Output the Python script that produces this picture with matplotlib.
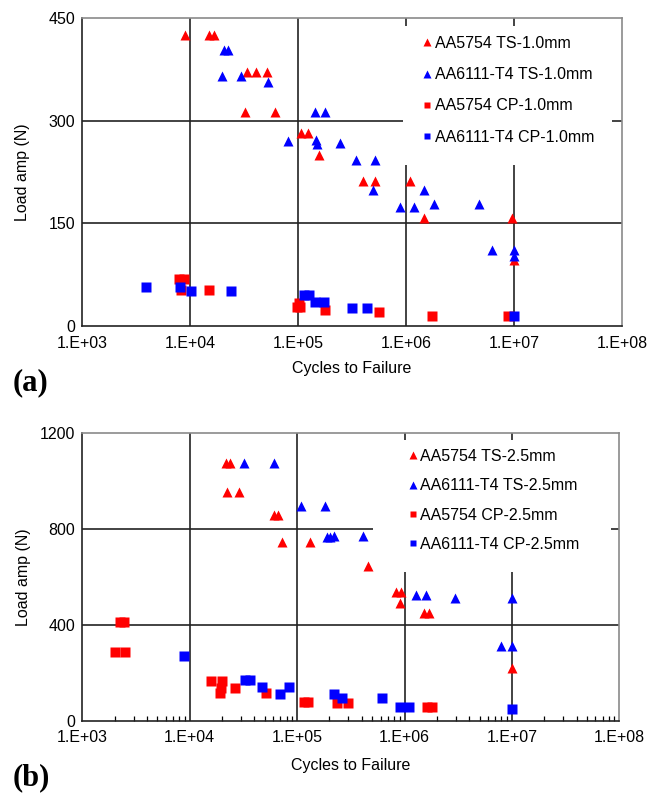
"""
S-N data of spot-friction-welded AA5754 / AA6111-T4 lap joints, two sheet thicknesses
"""

import numpy as np
import matplotlib.pyplot as plt
from matplotlib.patches import Rectangle
from matplotlib.ticker import FixedLocator, LogLocator, NullFormatter

plt.rcParams['font.family'] = ['Liberation Sans', 'DejaVu Sans']

#%% data, 1.0 mm sheet (a)

a_ts5754_n = [8.9e3, 1.49e4, 1.66e4, 3.37e4, 4.11e4, 5.17e4, 3.25e4, 6.17e4, 1.07e5, 1.24e5,
              1.55e5, 4.03e5, 5.17e5, 1.10e6, 1.46e6, 9.5e6, 1.0e7]
a_ts5754_p = [425, 425, 425, 371, 371, 371, 312, 312, 282, 282,
              250, 212, 212, 212, 158, 158, 96]

a_ts6111_n = [2.05e4, 2.23e4, 1.98e4, 2.96e4, 5.24e4, 1.45e5, 1.79e5, 8.0e4, 1.48e5, 1.50e5,
              2.45e5, 3.44e5, 5.17e5, 4.98e5, 8.8e5, 1.19e6, 1.46e6, 1.82e6, 4.71e6, 6.25e6,
              1.0e7, 1.0e7]
a_ts6111_p = [403, 403, 365, 365, 357, 312, 312, 271, 272, 266,
              268, 243, 243, 198, 174, 174, 198, 178, 178, 111,
              111, 103]

a_cp5754_n = [7.85e3, 8.75e3, 8.26e3, 1.49e4, 9.7e4, 1.03e5, 1.05e5, 1.77e5, 5.63e5, 1.73e6, 8.85e6]
a_cp5754_p = [68, 68, 53, 53, 28, 33, 28, 24, 20, 15, 15]

a_cp6111_n = [3.94e3, 8.0e3, 1.02e4, 2.4e4, 1.13e5, 1.26e5, 1.45e5, 1.73e5, 3.14e5, 4.39e5, 1.0e7]
a_cp6111_p = [57, 57, 51, 51, 45, 45, 35, 35, 27, 27, 15]

#%% data, 2.5 mm sheet (b)

b_ts5754_n = [2.18e4, 2.39e4, 2.22e4, 2.86e4, 6.05e4, 6.59e4, 7.23e4, 1.31e5, 4.54e5, 8.3e5,
              9.3e5, 9.1e5, 1.53e6, 1.70e6, 1.0e7]
b_ts5754_p = [1075, 1075, 954, 954, 860, 860, 745, 745, 645, 535,
              535, 489, 450, 450, 221]

b_ts6111_n = [3.18e4, 6.05e4, 1.09e5, 1.83e5, 1.89e5, 2.03e5, 2.2e5, 4.14e5, 1.27e6, 1.57e6,
              2.95e6, 1.0e7, 8.0e6, 1.01e7]
b_ts6111_p = [1075, 1075, 896, 896, 768, 768, 772, 770, 524, 524,
              512, 512, 311, 311]

b_cp5754_n = [2.26e3, 2.46e3, 2.03e3, 2.51e3, 1.59e4, 2.0e4, 1.97e4, 1.93e4, 2.62e4, 5.17e4,
              1.15e5, 1.26e5, 2.34e5, 2.96e5, 1.63e6, 1.79e6]
b_cp5754_p = [410, 410, 287, 287, 167, 167, 138, 117, 138, 117,
              79, 79, 72, 72, 58, 58]

b_cp6111_n = [8.8e3, 3.3e4, 3.66e4, 4.71e4, 6.89e4, 8.35e4, 2.22e5, 2.63e5, 6.2e5, 9.1e5,
              1.11e6, 1.0e7]
b_cp6111_p = [271, 170, 170, 142, 110, 142, 110, 93, 93, 56,
              56, 47]

decades = [1e3, 1e4, 1e5, 1e6, 1e7, 1e8]
decade_labels = ['1.E+03', '1.E+04', '1.E+05', '1.E+06', '1.E+07', '1.E+08']

fs = 11.5


def panel(ax, series, thick, ymax, ystep, minor, leg_xy, spacing, box):
    ax.set_xscale('log')
    ax.set_xlim(1e3, 1e8)
    ax.set_ylim(0, ymax)
    yt = np.arange(0, ymax + 1, ystep)
    ax.set_yticks(yt)
    ax.xaxis.set_major_locator(FixedLocator(decades))
    ax.set_xticklabels(decade_labels)
    if minor:
        ax.xaxis.set_minor_locator(LogLocator(base=10, subs=np.arange(2, 10)))
    else:
        ax.xaxis.set_minor_locator(FixedLocator([]))
    ax.xaxis.set_minor_formatter(NullFormatter())
    ax.tick_params(which='major', length=0, labelsize=fs)
    ax.tick_params(axis='x', which='major', pad=7)
    ax.tick_params(axis='y', which='major', pad=5)
    ax.tick_params(which='minor', direction='in', length=3.5, width=0.9, top=False)

    # inner grid lines
    for d in decades[1:-1]:
        ax.axvline(d, color='#222222', lw=1.2, zorder=0.5)
    for v in yt[1:-1]:
        ax.axhline(v, color='#222222', lw=1.2, zorder=0.5)

    for s in ['left', 'bottom']:
        ax.spines[s].set_color('#222222')
        ax.spines[s].set_linewidth(1.2)
    for s in ['top', 'right']:
        ax.spines[s].set_color('#8a8a8a')
        ax.spines[s].set_linewidth(1.2)

    # white box behind the legend hides the grid
    ax.add_patch(Rectangle((box[0], box[1]), box[2] - box[0], box[3] - box[1],
                           transform=ax.transAxes, facecolor='white',
                           edgecolor='none', zorder=1))

    labels = ['AA5754 TS-' + thick, 'AA6111-T4 TS-' + thick,
              'AA5754 CP-' + thick, 'AA6111-T4 CP-' + thick]
    styles = [('^', 'red', 7.5), ('^', 'blue', 7.5), ('s', 'red', 6.5), ('s', 'blue', 6.5)]
    for (n, p), lab, (m, c, ms) in zip(series, labels, styles):
        ax.plot(n, p, ls='none', marker=m, color=c, ms=ms, mec='none', label=lab, zorder=3)

    ax.legend(loc='upper left', bbox_to_anchor=leg_xy, frameon=False, fontsize=fs,
              borderpad=0, handlelength=0.6, handletextpad=0.2, labelspacing=spacing,
              markerscale=0.75, borderaxespad=0)

    ax.set_xlabel('Cycles to Failure', fontsize=fs)
    ax.set_ylabel('Load amp (N)', fontsize=fs)
    ax.yaxis.set_label_coords(-0.096, 0.5)


fig = plt.figure(figsize=(6.6, 7.93), dpi=100)

ax1 = fig.add_axes([82 / 660, 1 - 326 / 793, 540 / 660, 308 / 793])
panel(ax1,
      [(a_ts5754_n, a_ts5754_p), (a_ts6111_n, a_ts6111_p),
       (a_cp5754_n, a_cp5754_p), (a_cp6111_n, a_cp6111_p)],
      '1.0mm', 450, 150, False, (0.630, 0.942), 1.02, (0.594, 0.523, 0.981, 0.974))
ax1.xaxis.set_label_coords(0.5, -0.114)

ax2 = fig.add_axes([82.3 / 660, 1 - 720.7 / 793, 537 / 660, 287.7 / 793])
panel(ax2,
      [(b_ts5754_n, b_ts5754_p), (b_ts6111_n, b_ts6111_p),
       (b_cp5754_n, b_cp5754_p), (b_cp6111_n, b_cp6111_p)],
      '2.5mm', 1200, 400, True, (0.606, 0.945), 0.9, (0.542, 0.517, 0.985, 0.976))
ax2.xaxis.set_label_coords(0.5, -0.13)

fig.text(13 / 660, 1 - 383 / 793, '(a)', family='Liberation Serif', weight='bold',
         fontsize=22, ha='left', va='center')
fig.text(13 / 660, 1 - 778 / 793, '(b)', family='Liberation Serif', weight='bold',
         fontsize=22, ha='left', va='center')

plt.savefig('out.png', dpi=100)
